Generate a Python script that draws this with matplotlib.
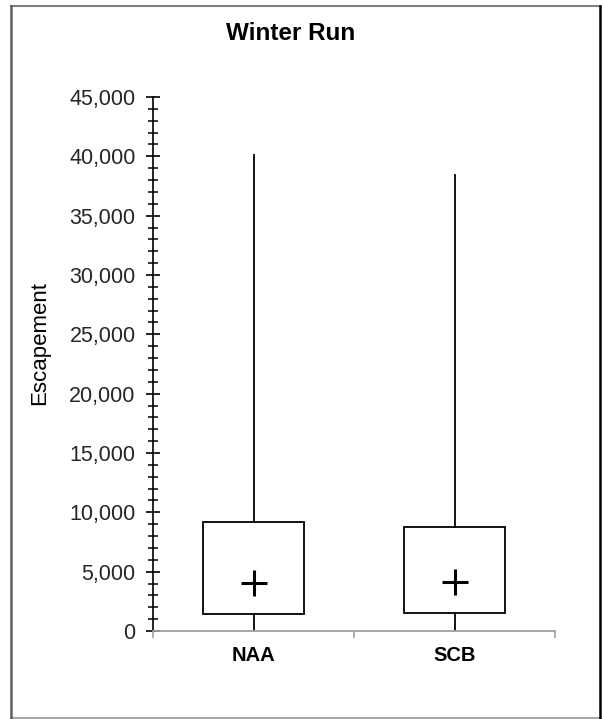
import matplotlib
matplotlib.use("Agg")
import matplotlib.pyplot as plt
from matplotlib.ticker import FuncFormatter, MultipleLocator, FixedLocator
from matplotlib.lines import Line2D

plt.rcParams['font.family'] = ['Liberation Sans', 'DejaVu Sans']

categories = ["NAA", "SCB"]
mins = [0, 0]
q1s = [1430, 1540]
means = [4020, 4100]
q3s = [9210, 8790]
maxs = [40150, 38400]

W, H = 602, 719
fig = plt.figure(figsize=(W / 100, H / 100), dpi=100)

# outer border drawn as four edges
def fline(x0, y0, x1, y1, color, lw):
    fig.lines.append(Line2D([x0 / W, x1 / W], [1 - y0 / H, 1 - y1 / H],
                            transform=fig.transFigure, color=color, linewidth=lw))

fline(10.5, 5.5, 600, 5.5, '#808080', 1.5)
fline(10.5, 717.5, 600, 717.5, '#a8a8a8', 1.5)
fline(10.5, 5.5, 10.5, 717.5, '#606060', 1.8)
fline(600, 5.5, 600, 717.5, '#000000', 1.8)

ax = fig.add_axes([153 / W, 1 - 631 / H, (555 - 153) / W, (631 - 97) / H])

positions = [0.5 + i for i in range(len(categories))]
stats = []
for c, lo, a, m, b, hi in zip(categories, mins, q1s, means, q3s, maxs):
    stats.append(dict(label=c, whislo=lo, q1=a, med=m, mean=m, q3=b, whishi=hi))

ax.bxp(stats, positions=positions, widths=0.5, showcaps=False, showmeans=True,
       showfliers=False, patch_artist=True,
       boxprops=dict(facecolor='white', edgecolor='black', linewidth=1.3),
       whiskerprops=dict(color='black', linewidth=1.3),
       medianprops=dict(visible=False),
       meanprops=dict(marker='+', markersize=19, markeredgewidth=2.2,
                      markeredgecolor='black'))

ax.set_xlim(0, len(categories))
ax.set_ylim(0, 45000)

for s in ['top', 'right']:
    ax.spines[s].set_visible(False)
ax.spines['left'].set_color('black')
ax.spines['left'].set_linewidth(1.2)
ax.spines['bottom'].set_color('#a0a0a0')
ax.spines['bottom'].set_linewidth(1.3)

ax.yaxis.set_major_locator(MultipleLocator(5000))
ax.yaxis.set_minor_locator(MultipleLocator(1000))
ax.yaxis.set_major_formatter(FuncFormatter(lambda v, p: f"{int(v):,}"))
ax.tick_params(axis='y', which='major', direction='inout', length=10, width=1.2,
               color='black', labelsize=15.5, pad=7.5, labelcolor='#262626')
ax.tick_params(axis='y', which='minor', direction='inout', length=7.5, width=1.1,
               color='black')

ax.xaxis.set_major_locator(FixedLocator(list(range(len(categories) + 1))))
ax.xaxis.set_minor_locator(FixedLocator(positions))
ax.set_xticklabels([], minor=False)
ax.set_xticklabels(categories, minor=True, fontweight='bold', fontsize=14.5)
ax.tick_params(axis='x', which='major', direction='out', length=5, width=1.2,
               color='#a0a0a0')
ax.tick_params(axis='x', which='minor', length=0, pad=11)

fig.text(291 / W, 1 - 33 / H, "Winter Run", ha='center', va='center',
         fontsize=17.5, fontweight='bold')
fig.text(40 / W, 1 - 343 / H, "Escapement", ha='center', va='center',
         rotation=90, fontsize=16)

fig.savefig("out.png", dpi=100)
